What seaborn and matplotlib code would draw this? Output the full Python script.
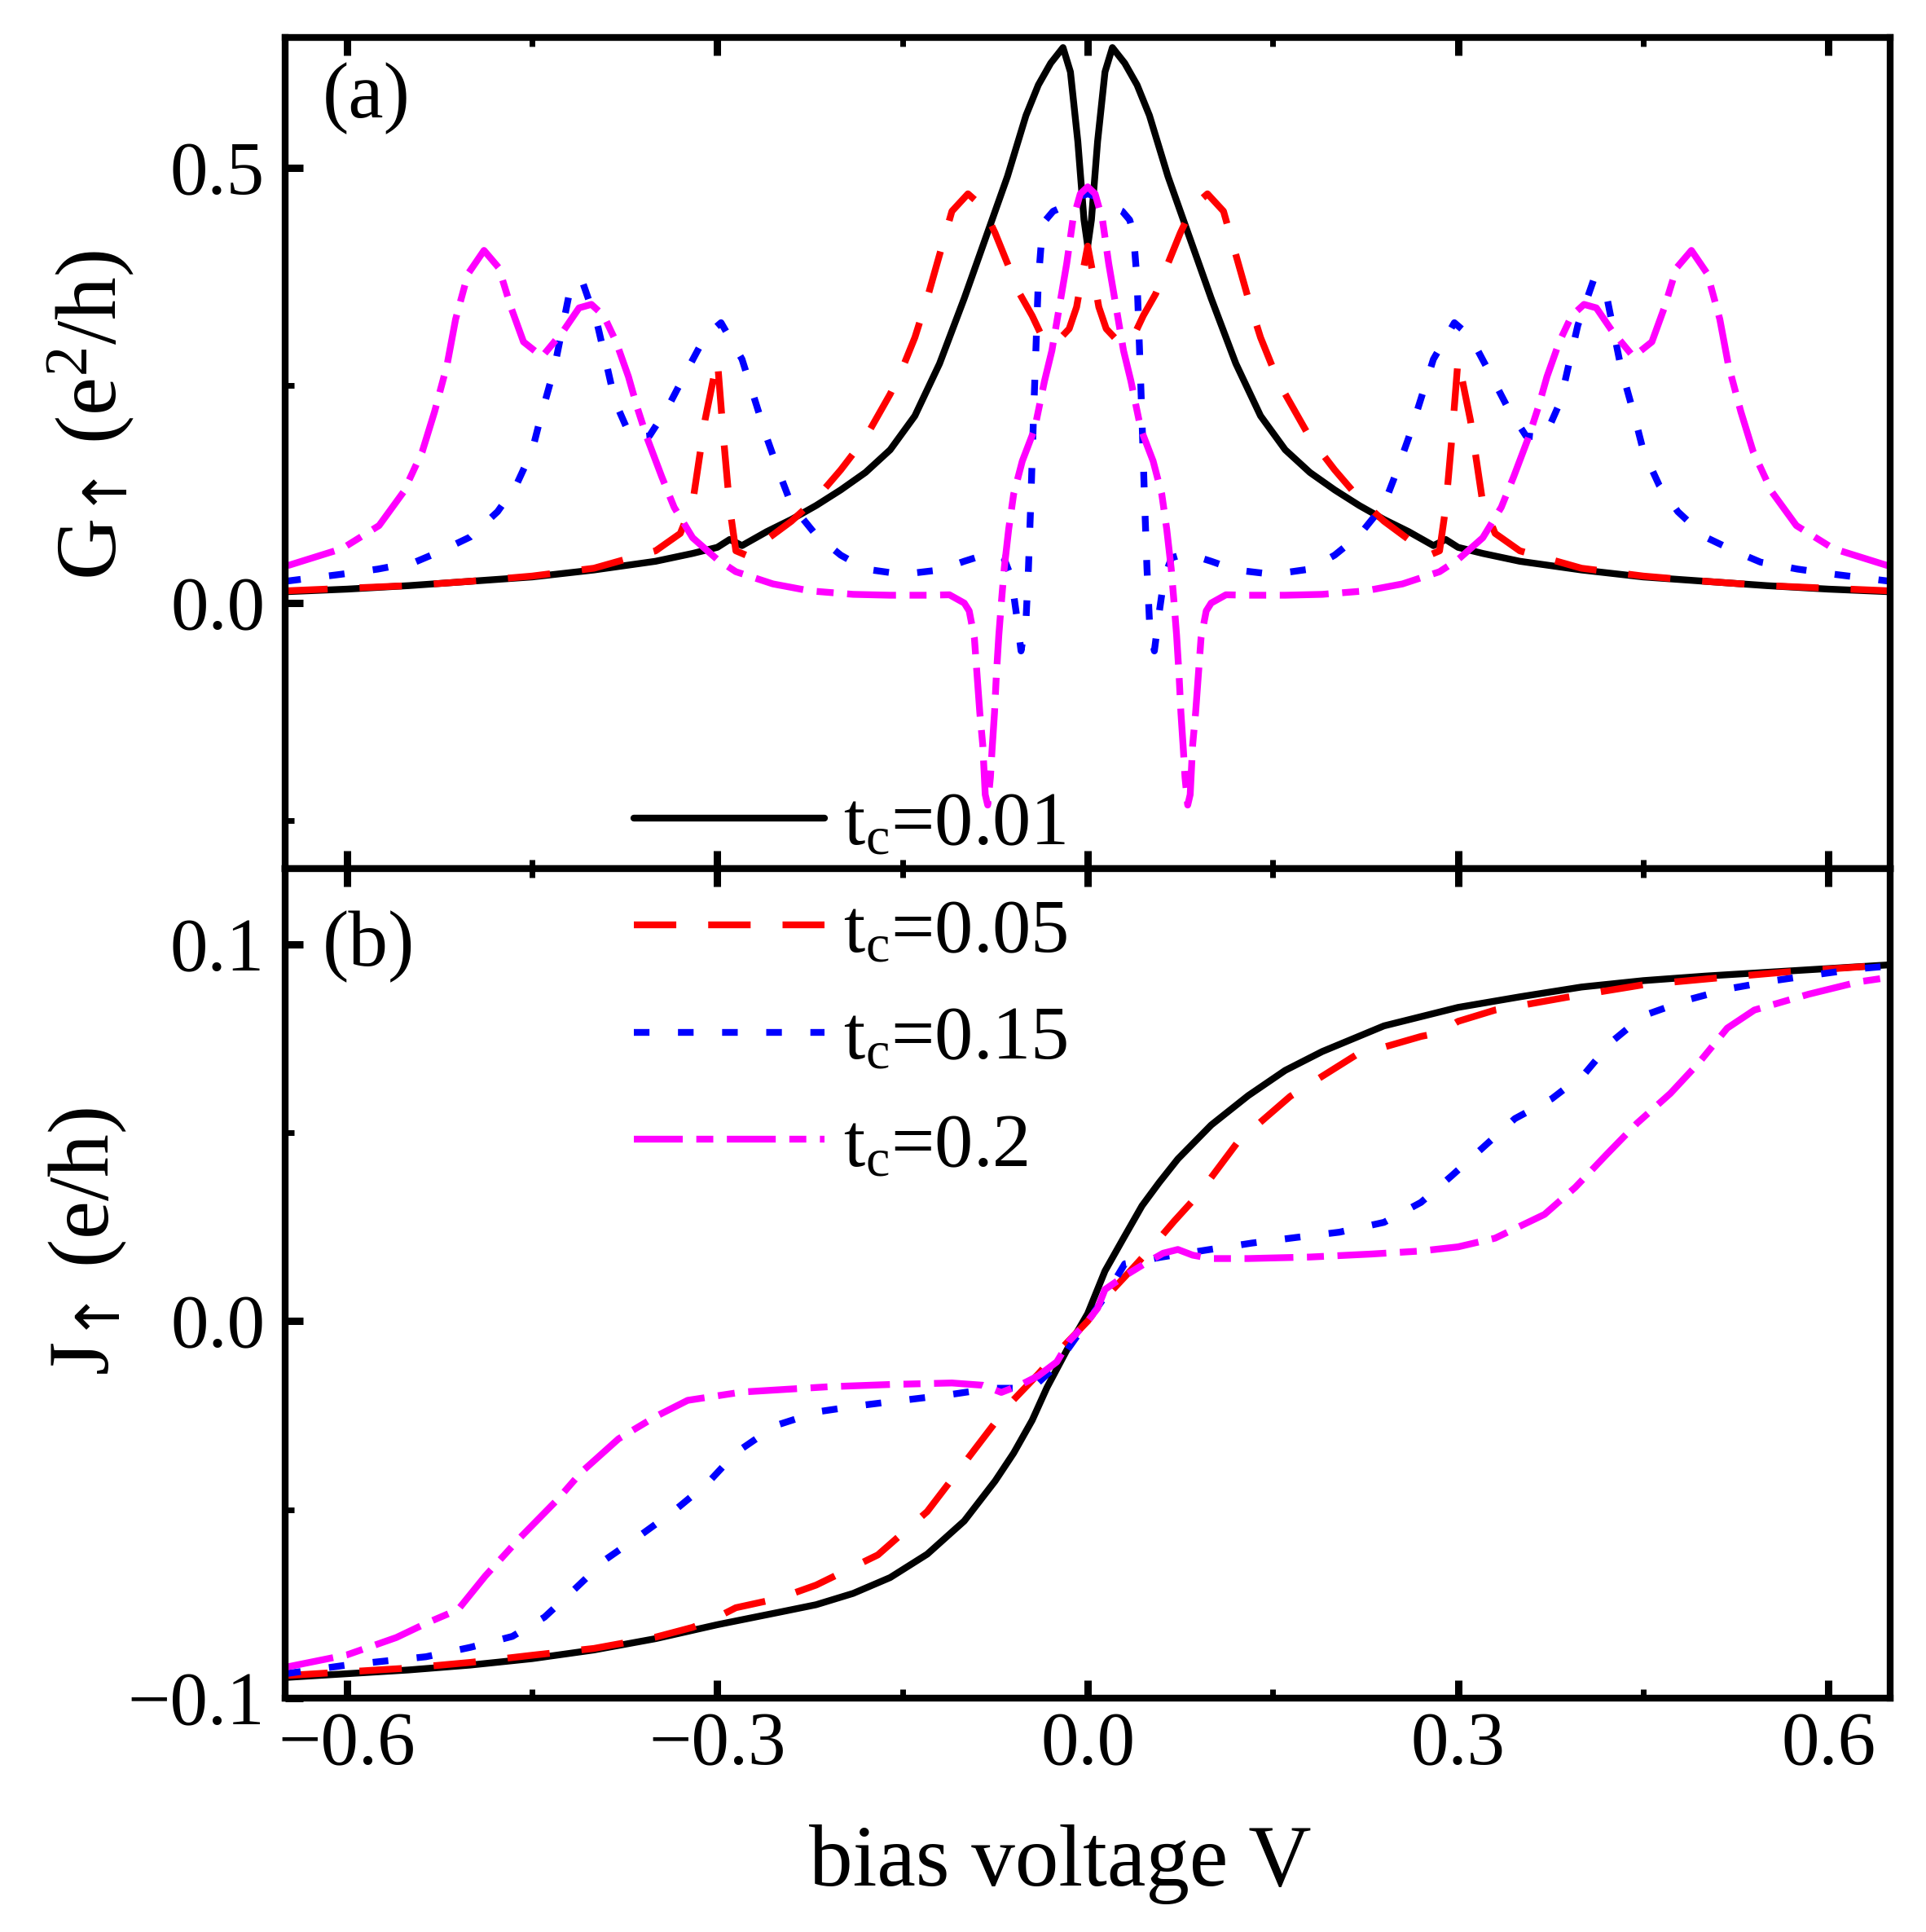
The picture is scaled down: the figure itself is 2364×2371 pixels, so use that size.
import matplotlib
matplotlib.use('Agg')
import matplotlib.pyplot as plt
import seaborn as sns
from matplotlib.ticker import FixedLocator, FuncFormatter

# ---------------- data ----------------
labels = ['t$_\\mathrm{c}$=0.01', 't$_\\mathrm{c}$=0.05', 't$_\\mathrm{c}$=0.15', 't$_\\mathrm{c}$=0.2']
colors = ['black', '#FF0000', '#0000FF', '#FF00FF']

# panel (a): conductance G_up
V_G_black = [-0.65, -0.60, -0.55, -0.50, -0.45, -0.40, -0.35, -0.32, -0.30, -0.29, -0.28, -0.26, -0.24, -0.22,
             -0.20, -0.18, -0.16, -0.14, -0.12, -0.10, -0.08, -0.065, -0.05, -0.04, -0.03, -0.02, -0.014, -0.008,
             -0.003, 0.0, 0.003, 0.008, 0.014, 0.02, 0.03, 0.04, 0.05, 0.065, 0.08, 0.10, 0.12, 0.14, 0.16, 0.18,
             0.20, 0.22, 0.24, 0.26, 0.28, 0.29, 0.30, 0.32, 0.35, 0.40, 0.45, 0.50, 0.55, 0.60, 0.65]
G_black = [0.013, 0.016, 0.020, 0.025, 0.030, 0.038, 0.048, 0.057, 0.064, 0.073, 0.066, 0.082, 0.096, 0.112,
           0.130, 0.150, 0.176, 0.215, 0.275, 0.350, 0.430, 0.490, 0.560, 0.595, 0.620, 0.638, 0.610, 0.530,
           0.440, 0.410, 0.440, 0.530, 0.610, 0.638, 0.620, 0.595, 0.560, 0.490, 0.430, 0.350, 0.275, 0.215, 0.176,
           0.150, 0.130, 0.112, 0.096, 0.082, 0.066, 0.073, 0.064, 0.057, 0.048, 0.038, 0.030, 0.025, 0.020, 0.016,
           0.013]

V_G_red = [-0.65, -0.60, -0.55, -0.50, -0.45, -0.40, -0.35, -0.33, -0.32, -0.31, -0.30, -0.295, -0.29, -0.285,
           -0.275, -0.26, -0.24, -0.22, -0.20, -0.18, -0.16, -0.15, -0.14, -0.13, -0.12, -0.11, -0.097, -0.085,
           -0.075, -0.065, -0.055, -0.045, -0.035, -0.025, -0.015, -0.009, -0.004, 0.0,
           0.004, 0.009, 0.015, 0.025, 0.035, 0.045, 0.055, 0.065, 0.075, 0.085, 0.097, 0.11, 0.12, 0.13, 0.14,
           0.15, 0.16, 0.18, 0.20, 0.22, 0.24, 0.26, 0.275, 0.285, 0.29, 0.295, 0.30, 0.31, 0.32, 0.33, 0.35,
           0.40, 0.45, 0.50, 0.55, 0.60, 0.65]
G_red = [0.014, 0.017, 0.020, 0.025, 0.031, 0.040, 0.060, 0.080, 0.115, 0.210, 0.280, 0.190, 0.110, 0.060,
         0.054, 0.073, 0.094, 0.120, 0.153, 0.190, 0.240, 0.270, 0.305, 0.350, 0.400, 0.450, 0.470, 0.455,
         0.425, 0.390, 0.355, 0.330, 0.300, 0.300, 0.315, 0.340, 0.380, 0.410,
         0.380, 0.340, 0.315, 0.300, 0.300, 0.330, 0.355, 0.390, 0.425, 0.455, 0.470, 0.450, 0.400, 0.350, 0.305,
         0.270, 0.240, 0.190, 0.153, 0.120, 0.094, 0.073, 0.054, 0.060, 0.110, 0.190, 0.280, 0.210, 0.115, 0.080,
         0.060, 0.040, 0.031, 0.025, 0.020, 0.017, 0.014]

V_G_blue = [-0.65, -0.605, -0.575, -0.545, -0.525, -0.50, -0.478, -0.463, -0.45, -0.443, -0.432, -0.42, -0.41,
            -0.397, -0.39, -0.383, -0.37, -0.355, -0.34, -0.325, -0.31, -0.297, -0.28, -0.27, -0.26, -0.25, -0.24,
            -0.22, -0.20, -0.18, -0.15, -0.12, -0.10, -0.08, -0.068, -0.062, -0.058, -0.054, -0.050, -0.048,
            -0.046, -0.044, -0.042, -0.040, -0.037, -0.034, -0.028, -0.02, -0.01, 0.0,
            0.01, 0.02, 0.028, 0.034, 0.037, 0.040, 0.042, 0.044, 0.046, 0.048, 0.050, 0.054, 0.058, 0.062, 0.068,
            0.08, 0.10, 0.12, 0.15, 0.18, 0.20, 0.22, 0.24, 0.25, 0.26, 0.27, 0.28, 0.297, 0.31, 0.325, 0.34,
            0.355, 0.37, 0.383, 0.39, 0.397, 0.41, 0.42, 0.432, 0.443, 0.45, 0.463, 0.478, 0.50, 0.525, 0.545,
            0.575, 0.605, 0.65]
G_blue = [0.025, 0.033, 0.039, 0.047, 0.059, 0.076, 0.105, 0.135, 0.175, 0.214, 0.270, 0.355, 0.372,
          0.319, 0.276, 0.232, 0.190, 0.192, 0.225, 0.266, 0.306, 0.322, 0.280, 0.235, 0.190, 0.150, 0.113,
          0.078, 0.055, 0.039, 0.033, 0.038, 0.048, 0.057, 0.052, 0.030, -0.010, -0.055, -0.020, 0.040,
          0.120, 0.210, 0.290, 0.370, 0.425, 0.440, 0.450, 0.455, 0.465, 0.470,
          0.465, 0.455, 0.450, 0.440, 0.425, 0.370, 0.290, 0.210, 0.120, 0.040, -0.020, -0.055, -0.010, 0.030,
          0.052, 0.057, 0.048, 0.038, 0.033, 0.039, 0.055, 0.078, 0.113, 0.150, 0.190, 0.235, 0.280, 0.322,
          0.306, 0.266, 0.225, 0.192, 0.190, 0.232, 0.276, 0.319, 0.372, 0.355, 0.270, 0.214, 0.175, 0.135,
          0.105, 0.076, 0.059, 0.047, 0.039, 0.033, 0.025]

V_G_mag = [-0.648, -0.604, -0.574, -0.554, -0.539, -0.529, -0.519, -0.512, -0.502, -0.489, -0.477, -0.467,
           -0.457, -0.442, -0.425, -0.412, -0.402, -0.392, -0.382, -0.372, -0.365, -0.357, -0.345, -0.335, -0.32,
           -0.30, -0.285, -0.255, -0.225, -0.19, -0.16, -0.13, -0.112, -0.10, -0.096, -0.0918, -0.0896, -0.0874,
           -0.085, -0.083, -0.081, -0.0788, -0.0775, -0.0755, -0.074, -0.072, -0.0698, -0.0676, -0.064, -0.060,
           -0.053, -0.043, -0.035, -0.029, -0.023, -0.017, -0.012, -0.006, 0.0,
           0.006, 0.012, 0.017, 0.023, 0.029, 0.035, 0.043, 0.053, 0.060, 0.064, 0.0676, 0.0698, 0.072, 0.074,
           0.0755, 0.0775, 0.0788, 0.081, 0.083, 0.085, 0.0874, 0.0896, 0.0918, 0.096, 0.10, 0.112, 0.13, 0.16,
           0.19, 0.225, 0.255, 0.285, 0.30, 0.32, 0.335, 0.345, 0.357, 0.365, 0.372, 0.382, 0.392, 0.402, 0.412,
           0.425, 0.442, 0.457, 0.467, 0.477, 0.489, 0.502, 0.512, 0.519, 0.529, 0.539, 0.554, 0.574, 0.604,
           0.648]
G_mag = [0.043, 0.0625, 0.089, 0.128, 0.174, 0.220, 0.273, 0.326, 0.378, 0.405, 0.385, 0.339,
         0.300, 0.283, 0.312, 0.339, 0.343, 0.330, 0.300, 0.260, 0.225, 0.190, 0.145, 0.110, 0.075,
         0.050, 0.036, 0.022, 0.014, 0.010, 0.009, 0.009, 0.0095, 0.000, -0.009, -0.040, -0.083, -0.126,
         -0.163, -0.220, -0.232, -0.200, -0.169, -0.126, -0.083, -0.037, 0.003, 0.040, 0.085, 0.125,
         0.163, 0.200, 0.255, 0.290, 0.340, 0.390, 0.440, 0.470, 0.478,
         0.470, 0.440, 0.390, 0.340, 0.290, 0.255, 0.200, 0.163, 0.125, 0.085, 0.040, 0.003, -0.037, -0.083,
         -0.126, -0.169, -0.200, -0.232, -0.220, -0.163, -0.126, -0.083, -0.040, -0.009, 0.000, 0.0095, 0.009,
         0.009, 0.010, 0.014, 0.022, 0.036, 0.050, 0.075, 0.110, 0.145, 0.190, 0.225, 0.260, 0.300, 0.330,
         0.343, 0.339, 0.312, 0.283, 0.300, 0.339, 0.385, 0.405, 0.378, 0.326, 0.273, 0.220, 0.174, 0.128,
         0.089, 0.0625, 0.043]

# panel (b): current J_up
V_J_black = [-0.65, -0.60, -0.55, -0.50, -0.45, -0.40, -0.35, -0.30, -0.25, -0.22, -0.19, -0.16, -0.13, -0.10,
             -0.075, -0.06, -0.045, -0.033, -0.015, 0.0, 0.014, 0.029, 0.044, 0.058, 0.073, 0.10, 0.13, 0.16,
             0.19, 0.24, 0.30, 0.35, 0.40, 0.45, 0.50, 0.55, 0.60, 0.65]
J_black = [-0.0945, -0.0935, -0.0925, -0.0912, -0.0895, -0.0872, -0.0842, -0.0805, -0.0772, -0.0752, -0.0722,
           -0.0680, -0.0618, -0.0530, -0.0424, -0.0350, -0.0263, -0.0176, -0.0065, 0.0020, 0.0133, 0.0220,
           0.0306, 0.0368, 0.0430, 0.0520, 0.0598, 0.0665, 0.0715, 0.0783, 0.0832, 0.0860, 0.0886, 0.0903,
           0.0915, 0.0925, 0.0935, 0.0945]

V_J_red = [-0.65, -0.60, -0.55, -0.50, -0.45, -0.40, -0.35, -0.32, -0.30, -0.285, -0.25, -0.22, -0.17, -0.13,
           -0.095, -0.064, -0.04, -0.025, 0.0, 0.015, 0.035, 0.053, 0.07, 0.09, 0.122, 0.164, 0.217, 0.27, 0.285,
           0.30, 0.33, 0.39, 0.45, 0.51, 0.57, 0.65]
J_red = [-0.0940, -0.0930, -0.0920, -0.0905, -0.0886, -0.0868, -0.0838, -0.0812, -0.0785, -0.0760, -0.0735,
         -0.0700, -0.0620, -0.0505, -0.0355, -0.0222, -0.0140, -0.0085, 0.0000, 0.0065, 0.0135, 0.0200, 0.0265,
         0.0337, 0.0477, 0.0596, 0.0705, 0.0755, 0.0765, 0.0795, 0.0825, 0.0860, 0.0892, 0.0910, 0.0927, 0.0945]

V_J_blue = [-0.65, -0.60, -0.536, -0.50, -0.466, -0.44, -0.415, -0.39, -0.362, -0.335, -0.308, -0.285, -0.253,
            -0.218, -0.185, -0.15, -0.112, -0.077, -0.045, -0.026, 0.0, 0.015, 0.03, 0.06, 0.097, 0.133, 0.169,
            0.204, 0.24, 0.27, 0.295, 0.32, 0.346, 0.376, 0.403, 0.424, 0.45, 0.487, 0.52, 0.558, 0.59, 0.626,
            0.65]
J_blue = [-0.0935, -0.0912, -0.0890, -0.0865, -0.0836, -0.0785, -0.0709, -0.0631, -0.0567, -0.0503, -0.0430,
          -0.0349, -0.0277, -0.0240, -0.0224, -0.0210, -0.0195, -0.0178, -0.0178, -0.0120, 0.0, 0.0070, 0.0152,
          0.0170, 0.0189, 0.0207, 0.0222, 0.0236, 0.0262, 0.0315, 0.0386, 0.0460, 0.0537, 0.0590, 0.0658,
          0.0740, 0.0810, 0.0853, 0.0882, 0.0904, 0.0919, 0.0935, 0.0942]

V_J_mag = [-0.65, -0.60, -0.56, -0.535, -0.51, -0.488, -0.46, -0.43, -0.41, -0.38, -0.35, -0.324, -0.28, -0.21,
           -0.16, -0.11, -0.085, -0.07, -0.055, -0.04, -0.025, -0.015, 0.0, 0.008, 0.014, 0.03, 0.045, 0.061,
           0.073, 0.085, 0.10, 0.13, 0.18, 0.23, 0.27, 0.30, 0.33, 0.37, 0.395, 0.42, 0.445, 0.472, 0.495, 0.518,
           0.54, 0.584, 0.625, 0.65]
J_mag = [-0.0918, -0.0885, -0.0839, -0.0800, -0.0765, -0.0676, -0.0575, -0.0475, -0.0400, -0.0312, -0.0253,
         -0.0210, -0.0188, -0.0174, -0.0168, -0.0164, -0.0170, -0.0189, -0.0170, -0.0145, -0.0108, -0.0053, 0.0,
         0.0034, 0.0084, 0.0120, 0.0150, 0.0180, 0.0190, 0.0175, 0.0166, 0.0166, 0.0170, 0.0178, 0.0186, 0.0197,
         0.0220, 0.0283, 0.0355, 0.0441, 0.0525, 0.0604, 0.0685, 0.0777, 0.0825, 0.0867, 0.0900, 0.0912]

x_major = [-0.6, -0.3, 0.0, 0.3, 0.6]
x_minor = [-0.45, -0.15, 0.15, 0.45]
yA_major = [0.0, 0.5]
yA_minor = [-0.25, 0.25]
yB_major = [-0.1, 0.0, 0.1]
yB_minor = [-0.05, 0.05]

# ---------------- style ----------------
sns.set_theme(style='ticks')
plt.rcParams['font.family'] = ['Liberation Serif', 'DejaVu Serif']
plt.rcParams['mathtext.fontset'] = 'custom'
plt.rcParams['mathtext.rm'] = 'Liberation Serif'
plt.rcParams['mathtext.it'] = 'Liberation Serif:italic'
plt.rcParams['mathtext.bf'] = 'Liberation Serif:bold'
plt.rcParams['mathtext.sf'] = 'DejaVu Sans'
plt.rcParams['axes.unicode_minus'] = True
for key in ['text.color', 'axes.labelcolor', 'xtick.color', 'ytick.color', 'axes.edgecolor']:
    plt.rcParams[key] = 'black'

LW = 6.0
styles = [
    '-',
    (0, (6.25, 4.7)),
    (0, (2.3, 4.2)),
    (0, (7.2, 2.0, 2.5, 2.0)),
]

fig = plt.figure(figsize=(23.64, 23.71), dpi=100)
axA = fig.add_axes([0.1481, 0.5504, 0.8333, 0.4304])
axB = fig.add_axes([0.1481, 0.1210, 0.8333, 0.4294])

G_sets = [(V_G_black, G_black), (V_G_red, G_red), (V_G_blue, G_blue), (V_G_mag, G_mag)]
J_sets = [(V_J_black, J_black), (V_J_red, J_red), (V_J_blue, J_blue), (V_J_mag, J_mag)]

for (vx, vy), c, ls, lab in zip(G_sets, colors, styles, labels):
    sns.lineplot(x=vx, y=vy, ax=axA, color=c, linewidth=LW, linestyle=ls, label=lab,
                 estimator=None, sort=False, legend=False)
for (vx, vy), c, ls in zip(J_sets, colors, styles):
    sns.lineplot(x=vx, y=vy, ax=axB, color=c, linewidth=LW, linestyle=ls,
                 estimator=None, sort=False, legend=False)

def fmt(v, pos):
    s = f'{v:.1f}'
    if s == '-0.0':
        s = '0.0'
    return s.replace('-', '\u2212')

TICK_FS = 67
for ax in (axA, axB):
    ax.set_xlim(-0.65, 0.65)
    ax.xaxis.set_major_locator(FixedLocator(x_major))
    ax.xaxis.set_minor_locator(FixedLocator(x_minor))
    ax.xaxis.set_major_formatter(FuncFormatter(fmt))
    ax.yaxis.set_major_formatter(FuncFormatter(fmt))
    ax.tick_params(which='major', direction='in', length=16, width=6.5, top=True, bottom=True,
                   left=True, right=False, labelsize=TICK_FS, colors='black')
    ax.tick_params(which='minor', direction='in', length=8, width=5, top=True, bottom=True,
                   left=True, right=False, colors='black')
    ax.tick_params(axis='y', which='major', pad=18)
    ax.tick_params(axis='x', which='major', pad=12)
    for sp in ax.spines.values():
        sp.set_linewidth(6)
        sp.set_color('black')
        sp.set_visible(True)
    ax.set_xlabel('')
    ax.set_ylabel('')

axA.set_ylim(-0.305, 0.65)
axA.yaxis.set_major_locator(FixedLocator(yA_major))
axA.yaxis.set_minor_locator(FixedLocator(yA_minor))
axA.tick_params(labelbottom=False)

axB.set_ylim(-0.1, 0.12)
axB.yaxis.set_major_locator(FixedLocator(yB_major))
axB.yaxis.set_minor_locator(FixedLocator(yB_minor))

axA.set_ylabel('G$_{\\mathsf{\u2191}}$ (e$^{\\mathrm{2}}$/h)', fontsize=76)
axA.yaxis.label.set_va('center')
axA.yaxis.set_label_coords(-0.121, 0.545)

axB.set_ylabel('J$_{\\mathsf{\u2191}}$ (e/h)', fontsize=76)
axB.yaxis.label.set_va('center')
axB.yaxis.set_label_coords(-0.123, 0.551)

axB.set_xlabel('bias voltage V', fontsize=77)
axB.xaxis.label.set_va('baseline')
axB.xaxis.set_label_coords(0.483, -0.226)

axA.text(0.0234, 0.926, '(a)', transform=axA.transAxes, fontsize=70, ha='left', va='center')
axB.text(0.0234, 0.906, '(b)', transform=axB.transAxes, fontsize=70, ha='left', va='center')

handles, labs = axA.get_legend_handles_labels()
fig.legend(handles, labs, loc='upper left', bbox_to_anchor=(0.329, 0.5905), frameon=False,
           fontsize=68, handlelength=2.48, handletextpad=0.24, labelspacing=0.48,
           borderpad=0, borderaxespad=0)

fig.savefig('out.png', dpi=100)
